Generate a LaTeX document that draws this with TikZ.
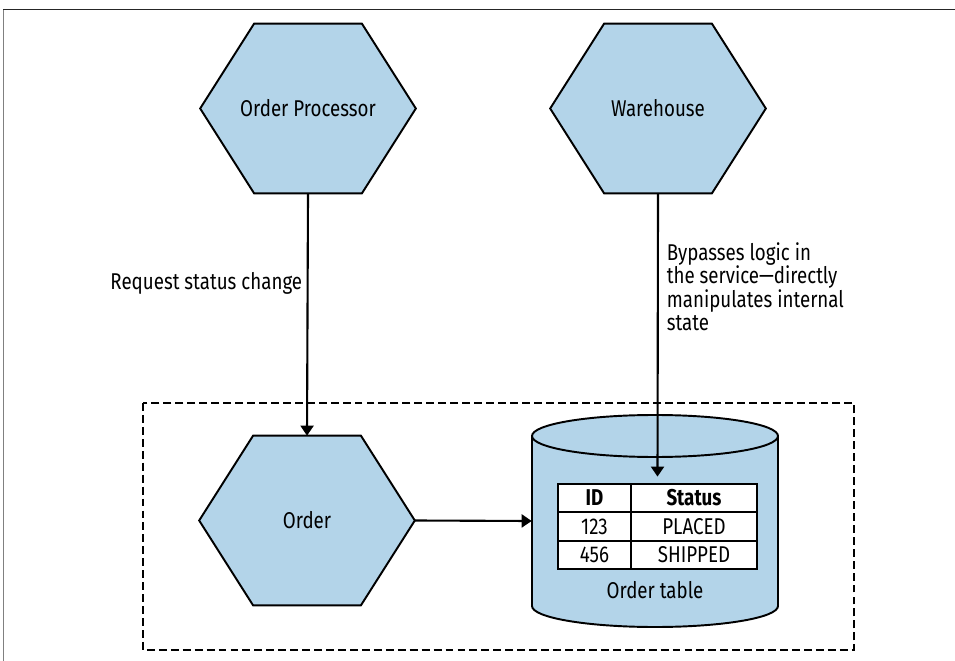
\documentclass[tikz,border=0pt]{standalone}
\usepackage{fontspec}
\setmainfont{Fira Sans}[FakeStretch=0.82]
\usetikzlibrary{arrows.meta,calc,backgrounds,matrix}

\definecolor{svcblue}{RGB}{179,212,233}

\tikzset{
	service/.style={minimum width=4.3cm, minimum height=3.38cm, inner sep=0pt},
	hexline/.style={draw=black, fill=svcblue, line width=1.1pt, line join=miter},
	tank/.style={draw=black, fill=svcblue, line width=1.1pt},
	flow/.style={-{Triangle[length=0.2cm,width=0.26cm]}, line width=1.2pt},
	boundary/.style={dash pattern=on 4.5pt off 2.3pt, line width=1.2pt},
	cell/.style={draw, fill=white, line width=1.1pt, minimum height=0.57cm, inner sep=0pt, anchor=center},
}

\begin{document}
\begin{tikzpicture}[x=0.02cm, y=-0.02cm, font=\fontsize{13pt}{13.4pt}\selectfont]
	\useasboundingbox (0,0) rectangle (955,661);
	
	% Frame of the page
	\draw[line width=0.4pt, gray] (3,9.5) -- (3,661);
	\draw[line width=0.9pt, black!85] (3,9.5) -- (955,9.5);
	
	% Draw nodes
	\node[service] (op) at (308,108.5) {Order Processor};
	\node[service] (wh) at (658,108.5) {Warehouse};
	\node[service] (ord) at (307,520.5) {Order};
	\node[minimum width=4.92cm, minimum height=4.24cm, inner sep=0pt] (ordertbl) at (655,521) {};
	\node (tbllabel) at (655,590) {Order table};
	\matrix (tbl) at (657.5,526.5) [matrix of nodes, column sep=-1.1pt, row sep=-1.1pt, nodes={cell},
		column 1/.style={nodes={minimum width=1.46cm}}, column 2/.style={nodes={minimum width=2.52cm}}]
	{
		\textbf{ID} & \textbf{Status} \\
		123 & PLACED \\
		456 & SHIPPED \\
	};
	
	% Draw shapes behind the texts
	\begin{scope}[on background layer]
		\foreach \s in {op,wh,ord} {
			\filldraw[hexline] (\s.west) -- ($(\s.north west)!.25!(\s.north east)$)
				-- ($(\s.north west)!.75!(\s.north east)$) -- (\s.east)
				-- ($(\s.south west)!.75!(\s.south east)$) -- ($(\s.south west)!.25!(\s.south east)$) -- cycle;
		}
		\filldraw[tank] (532,436) -- (532,606) arc[start angle=180, end angle=0, x radius=123, y radius=21]
			-- (778,436) arc[start angle=0, end angle=-180, x radius=123, y radius=21] -- cycle;
		\draw[tank, fill=none] (532,436) arc[start angle=180, end angle=0, x radius=123, y radius=21];
	\end{scope}
	
	% Service boundary
	\draw[boundary] (143,403) rectangle (854,650);
	
	% Draw arcs
	\draw[flow] (op.south) to node[pos=0.37, left, inner sep=2.5pt] {Request status change} (ord.north);
	\draw[flow] (wh.south) to node[pos=0.33, right, align=left, inner sep=4.5pt] {Bypasses logic in\\the service---directly\\manipulates internal\\state} (tbl.north);
	\draw[flow] (ord.east) to (ordertbl.west);
	
\end{tikzpicture}
\end{document}
